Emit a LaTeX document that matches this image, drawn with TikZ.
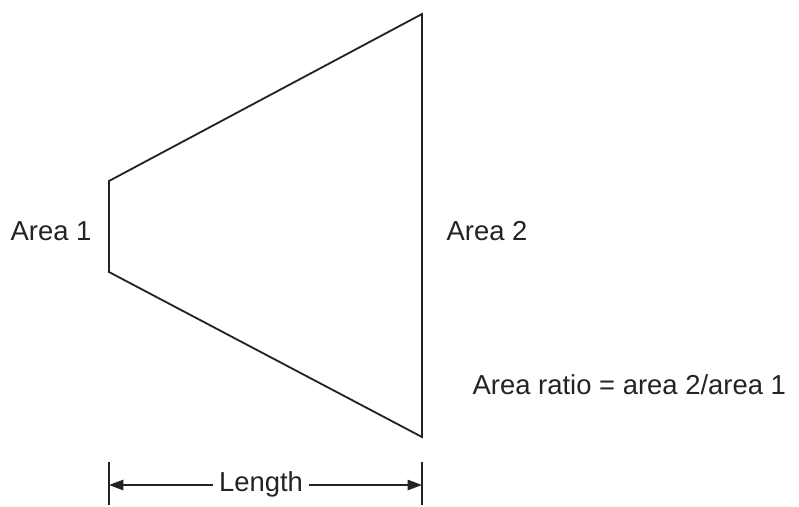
\documentclass[tikz,border=0pt]{standalone}
\usepackage{fontspec}
\setmainfont{Liberation Sans}
\usetikzlibrary{arrows.meta,positioning}
\definecolor{inkgrey}{RGB}{35,35,35}
\tikzset{
  dedge/.style ={line width=1.3pt, inkgrey, line cap=round},
  dtick/.style ={line width=1.1pt, inkgrey},
  ddim/.style  ={-{Triangle[length=3.6mm, width=2.6mm]}, line width=1.1pt, inkgrey},
  dlabel/.style={font=\fontsize{19.5}{22}\selectfont, text=inkgrey, inner sep=1pt},
}
\begin{document}
\begin{tikzpicture}[x=0.025cm, y=-0.025cm]
  \useasboundingbox (0,0) rectangle (799,506);

  % ---- the duct: narrow end left, wide end right ---------------------------
  \coordinate (n1) at (109,181);
  \coordinate (n2) at (109,272);
  \coordinate (w1) at (422,14);
  \coordinate (w2) at (422,437);
  \draw[dedge] (n1) -- (w1) -- (w2) -- (n2) -- cycle;

  \node[dlabel] (area1) at (51,231) {Area 1};
  \node[dlabel] (area2) at (487,231) {Area 2};
  \node[dlabel, anchor=west] (ratio) at (471,385) {Area ratio = area 2/area 1};

  % ---- length dimension -------------------------------------------------------
  \coordinate (t1a) at (109,462);
  \coordinate (t1b) at (109,505);
  \coordinate (t2a) at (422,462);
  \coordinate (t2b) at (422,505);
  \draw[dtick] (t1a) -- (t1b) (t2a) -- (t2b);
  \coordinate (d1) at (109,485);
  \coordinate (d2) at (422,485);
  \node[dlabel, inner xsep=4pt] (length) at (261,484) {Length};
  \draw[ddim] (length.west |- d1) -- (d1);
  \draw[ddim] (length.east |- d2) -- (d2);
\end{tikzpicture}
\end{document}
